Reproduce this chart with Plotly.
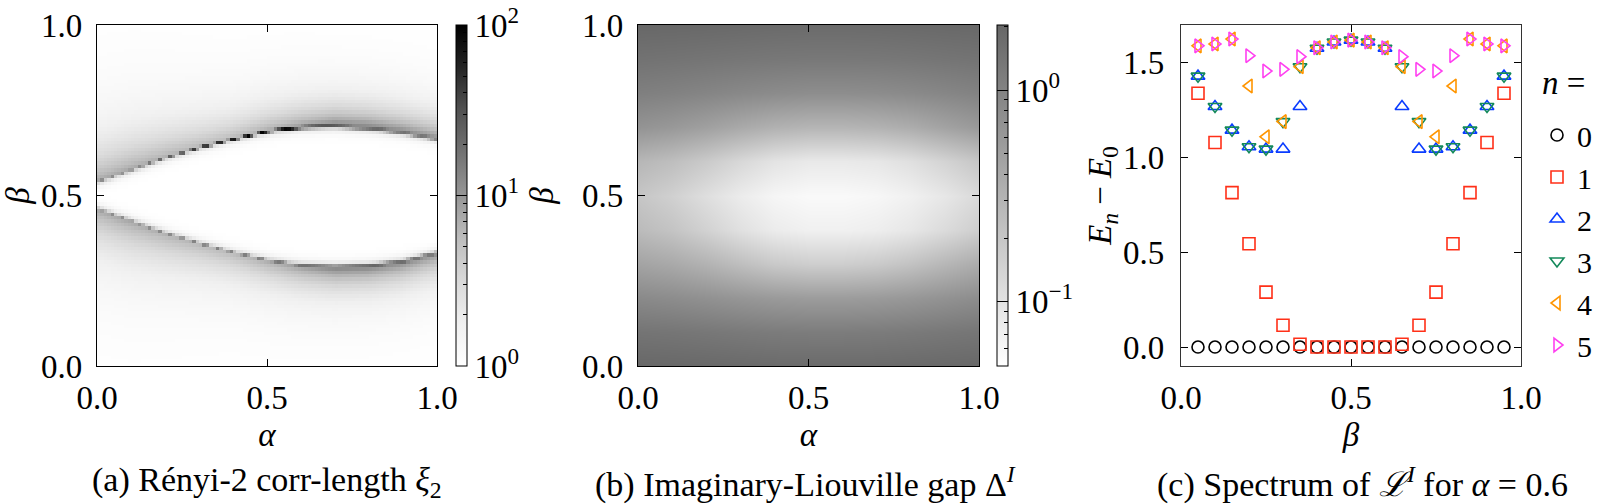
import numpy as np
import plotly.graph_objects as go

FONT = "Liberation Serif, Times New Roman, Times, serif"
FS = 33

# ---------------- Panel (a): Renyi-2 correlation length (log10 xi_2) ----------------
alpha_nodes = [0.0, 0.1, 0.2, 0.3, 0.4, 0.5, 0.6, 0.7, 0.8, 0.9, 1.0]
upper_line_beta = [0.540, 0.575, 0.610, 0.640, 0.665, 0.688, 0.700, 0.704, 0.698, 0.686, 0.667]
lower_line_beta = [0.462, 0.425, 0.390, 0.360, 0.333, 0.310, 0.295, 0.290, 0.293, 0.305, 0.330]
upper_line_peak = [1.05, 1.15, 1.35, 1.70, 1.95, 2.00, 1.95, 1.45, 1.35, 1.25, 1.20]
lower_line_peak = [1.05, 1.10, 1.10, 1.15, 1.15, 1.20, 1.25, 1.35, 1.35, 1.30, 1.20]
line_width = [0.004, 0.004, 0.004, 0.0045, 0.0045, 0.005, 0.006, 0.008, 0.009, 0.009, 0.009]
halo_peak = [0.90, 0.90, 0.85, 0.80, 0.80, 0.88, 1.00, 1.15, 1.15, 1.10, 1.05]
halo_width = [0.12, 0.115, 0.105, 0.095, 0.085, 0.080, 0.075, 0.070, 0.070, 0.070, 0.070]
xi_ticks_major = [1, 10, 100]
xi_ticks_minor = [2, 3, 4, 5, 6, 7, 8, 9, 20, 30, 40, 50, 60, 70, 80, 90]

cells_a = (np.arange(100) + 0.5) / 100.0
AA, BB = np.meshgrid(cells_a, cells_a)


def band(d, peak, w, hp, hw):
    core = peak * np.exp(-(d / w) ** 2)
    halo = np.where(d > 0, hp * np.exp(-np.clip(d, 0, None) / hw),
                    hp * np.exp(np.clip(d, None, 0) / 0.010))
    return np.maximum(core, halo)


bu = np.interp(AA, alpha_nodes, upper_line_beta)
bl = np.interp(AA, alpha_nodes, lower_line_beta)
pu = np.interp(AA, alpha_nodes, upper_line_peak)
pl = np.interp(AA, alpha_nodes, lower_line_peak)
lw = np.interp(AA, alpha_nodes, line_width)
hp = np.interp(AA, alpha_nodes, halo_peak)
hw = np.interp(AA, alpha_nodes, halo_width)
z_a = np.maximum(band(BB - bu, pu, lw, hp, hw), band(bl - BB, pl, lw, hp, hw))
z_a = np.clip(z_a, 0, 2)

# ---------------- Panel (b): Imaginary-Liouville gap ----------------
gap_alpha = [0.0, 0.1, 0.2, 0.3, 0.4, 0.5, 0.6, 0.7, 0.8, 0.9, 1.0]
gap_beta = [0.0, 0.1, 0.2, 0.3, 0.4, 0.5, 0.6, 0.7, 0.8, 0.9, 1.0]
gap_values = [
    [1.95, 1.93, 1.90, 1.86, 1.82, 1.80, 1.80, 1.82, 1.86, 1.90, 1.93],
    [1.44, 1.40, 1.34, 1.27, 1.21, 1.19, 1.19, 1.21, 1.26, 1.33, 1.40],
    [0.86, 0.80, 0.72, 0.64, 0.58, 0.55, 0.55, 0.57, 0.62, 0.70, 0.80],
    [0.46, 0.40, 0.32, 0.24, 0.185, 0.165, 0.165, 0.18, 0.22, 0.29, 0.38],
    [0.26, 0.21, 0.15, 0.105, 0.080, 0.071, 0.071, 0.076, 0.090, 0.12, 0.165],
    [0.20, 0.155, 0.11, 0.080, 0.063, 0.057, 0.057, 0.061, 0.071, 0.090, 0.125],
    [0.29, 0.24, 0.18, 0.13, 0.098, 0.085, 0.085, 0.090, 0.108, 0.145, 0.20],
    [0.68, 0.60, 0.50, 0.40, 0.33, 0.30, 0.30, 0.32, 0.37, 0.47, 0.59],
    [1.10, 1.04, 0.96, 0.88, 0.82, 0.78, 0.78, 0.80, 0.85, 0.93, 1.03],
    [1.51, 1.47, 1.42, 1.37, 1.33, 1.31, 1.31, 1.32, 1.36, 1.42, 1.48],
    [1.95, 1.93, 1.90, 1.86, 1.82, 1.80, 1.80, 1.82, 1.86, 1.90, 1.93],
]
gap_range = [0.0497, 2.03]
gap_ticks_major = [0.1, 1]
gap_ticks_minor = [0.06, 0.07, 0.08, 0.09, 0.2, 0.3, 0.4, 0.5, 0.6, 0.7, 0.8, 0.9, 2]

# ---------------- Panel (c): spectrum for alpha = 0.6 ----------------
beta_c = [0.05, 0.10, 0.15, 0.20, 0.25, 0.30, 0.35, 0.40, 0.45, 0.50,
          0.55, 0.60, 0.65, 0.70, 0.75, 0.80, 0.85, 0.90, 0.95]
E0 = [0, 0, 0, 0, 0, 0, 0, 0, 0, 0, 0, 0, 0, 0, 0, 0, 0, 0, 0]
E1 = [1.34, 1.08, 0.815, 0.545, 0.29, 0.115, 0.015, 0.0, 0.0, 0.0,
      0.0, 0.0, 0.015, 0.115, 0.29, 0.545, 0.815, 1.08, 1.34]
E2 = [1.43, 1.27, 1.145, 1.057, 1.045, 1.045, 1.27, 1.577, 1.61, 1.62,
      1.61, 1.577, 1.27, 1.045, 1.045, 1.057, 1.145, 1.27, 1.43]
E3 = [1.43, 1.27, 1.145, 1.057, 1.045, 1.19, 1.48, 1.577, 1.61, 1.62,
      1.61, 1.577, 1.48, 1.19, 1.045, 1.057, 1.145, 1.27, 1.43]
E4 = [1.59, 1.60, 1.626, 1.378, 1.11, 1.19, 1.48, 1.58, 1.61, 1.62,
      1.61, 1.58, 1.48, 1.19, 1.11, 1.378, 1.626, 1.60, 1.59]
E5 = [1.59, 1.60, 1.626, 1.538, 1.457, 1.466, 1.533, 1.58, 1.61, 1.62,
      1.61, 1.58, 1.533, 1.466, 1.457, 1.538, 1.626, 1.60, 1.59]
levels = [("0", E0, "circle-open", "#000000"),
          ("1", E1, "square-open", "#ff3018"),
          ("2", E2, "triangle-up-open", "#0a3cff"),
          ("3", E3, "triangle-down-open", "#13895a"),
          ("4", E4, "triangle-left-open", "#ff9500"),
          ("5", E5, "triangle-right-open", "#ff40f0")]

# ---------------- figure ----------------
W, H = 1600, 504
def px_x(a, b):
    return [a / W, b / W]
def px_y(top, bottom):
    return [(H - bottom) / H, (H - top) / H]

dom_y = px_y(25, 366)
dom_a = px_x(97, 437)
dom_b = px_x(638, 979)
dom_c = px_x(1181, 1521)
cb_len = 341
cb_y = (H - (25 + 366) / 2) / H

greys = [[0.0, "#ffffff"], [0.125, "#f0f0f0"], [0.25, "#d9d9d9"], [0.375, "#bdbdbd"],
         [0.5, "#969696"], [0.625, "#737373"], [0.75, "#525252"], [0.875, "#252525"],
         [1.0, "#000000"]]
clear = [[0, "rgba(0,0,0,0)"], [1, "rgba(0,0,0,0)"]]
tfont = dict(family=FONT, size=FS, color="black")
cfont = dict(family=FONT, size=34, color="black")
lfont = dict(family=FONT, size=30, color="black")


def sup_label(v):
    e = int(round(np.log10(v)))
    return "10<sup>%s</sup>" % (str(e).replace("-", "−"))


def cbar_major(xpx, vals):
    return dict(x=xpx / W, xanchor="left", xpad=0, ypad=0, y=cb_y, yanchor="middle",
                len=cb_len, lenmode="pixels", thickness=11, outlinecolor="black",
                outlinewidth=1, tickmode="array", tickvals=list(np.log10(vals)),
                ticktext=[sup_label(v) for v in vals], ticks="inside", ticklen=11,
                tickwidth=1, tickcolor="black", tickfont=tfont)


def cbar_minor(xpx, vals):
    return dict(x=xpx / W, xanchor="left", xpad=0, ypad=0, y=cb_y, yanchor="middle",
                len=cb_len, lenmode="pixels", thickness=11, outlinewidth=0,
                tickmode="array", tickvals=list(np.log10(vals)), ticks="inside",
                ticklen=4, tickwidth=1, tickcolor="black", showticklabels=False)


fig = go.Figure()

# (a)
fig.add_trace(go.Heatmap(x=cells_a, y=cells_a, z=z_a, zmin=0, zmax=2, colorscale=greys,
                         xaxis="x", yaxis="y", hoverinfo="skip",
                         colorbar=cbar_major(456, xi_ticks_major)))
fig.add_trace(go.Heatmap(x=cells_a, y=cells_a, z=z_a, zmin=0, zmax=2, colorscale=clear,
                         xaxis="x", yaxis="y", hoverinfo="skip",
                         colorbar=cbar_minor(456, xi_ticks_minor)))
# (b)
z_b = np.log10(np.array(gap_values))
gmin, gmax = np.log10(gap_range[0]), np.log10(gap_range[1])
fig.add_trace(go.Heatmap(x=gap_alpha, y=gap_beta, z=z_b, zmin=gmin, zmax=gmax,
                         colorscale=[[0, "#ffffff"], [1, "#666666"]], zsmooth="best",
                         xaxis="x2", yaxis="y2", hoverinfo="skip",
                         colorbar=cbar_major(997, gap_ticks_major)))
fig.add_trace(go.Heatmap(x=gap_alpha, y=gap_beta, z=z_b, zmin=gmin, zmax=gmax,
                         colorscale=clear, zsmooth="best",
                         xaxis="x2", yaxis="y2", hoverinfo="skip",
                         colorbar=cbar_minor(997, gap_ticks_minor)))
# (c)
for name, vals, sym, col in levels:
    fig.add_trace(go.Scatter(x=beta_c, y=vals, mode="markers", name=name,
                             xaxis="x3", yaxis="y3", hoverinfo="skip",
                             marker=dict(symbol=sym, size=12, color=col,
                                         line=dict(width=1.6, color=col))))

common = dict(showgrid=False, zeroline=False, showline=True, linecolor="black",
              linewidth=1.3, mirror="ticks", ticks="inside", ticklen=7, tickwidth=1.3,
              tickcolor="black", tickfont=tfont)
unit_ticks = dict(tickmode="array", tickvals=[0, 0.5, 1.0], ticktext=["0.0", "0.5", "1.0"],
                  range=[0, 1])

fig.update_layout(
    width=W, height=H, margin=dict(l=0, r=0, t=0, b=0, autoexpand=False),
    paper_bgcolor="white", plot_bgcolor="white",
    font=dict(family=FONT, size=FS, color="black"),
    showlegend=True,
    xaxis=dict(domain=dom_a, anchor="y", title=dict(text="<i>α</i>", standoff=8,
               font=tfont), ticklabelstandoff=2, **common, **unit_ticks),
    yaxis=dict(domain=dom_y, anchor="x", title=dict(text="<i>β</i>", standoff=18,
               font=tfont), ticklabelstandoff=7, **common, **unit_ticks),
    xaxis2=dict(domain=dom_b, anchor="y2", title=dict(text="<i>α</i>", standoff=8,
                font=tfont), ticklabelstandoff=2, **common, **unit_ticks),
    yaxis2=dict(domain=dom_y, anchor="x2", title=dict(text="<i>β</i>", standoff=18,
                font=tfont), ticklabelstandoff=7, **common, **unit_ticks),
    xaxis3=dict(domain=dom_c, anchor="y3", title=dict(text="<i>β</i>", standoff=8,
                font=tfont), ticklabelstandoff=2, **common, **unit_ticks),
    yaxis3=dict(domain=dom_y, anchor="x3", range=[-0.1, 1.7], tickmode="array",
                tickvals=[0, 0.5, 1.0, 1.5], ticktext=["0.0", "0.5", "1.0", "1.5"],
                title=dict(text="<i>E</i><sub><i>n</i></sub> − <i>E</i><sub>0</sub>",
                           standoff=0, font=tfont), ticklabelstandoff=9, **common),
    legend=dict(x=1537 / W, xanchor="left", y=(H - 109) / H, yanchor="top",
                font=lfont, bgcolor="rgba(0,0,0,0)", borderwidth=0,
                tracegroupgap=0),
)
fig.update_layout(yaxis3_linecolor="#333333", xaxis3_linecolor="#333333")

fig.add_annotation(x=1540 / W, y=(H - 83) / H, xref="paper", yref="paper",
                   xanchor="left", yanchor="middle", text="<i>n</i> =",
                   showarrow=False, font=tfont)

captions = [(267, "(a) Rényi-2 corr-length <i>ξ</i><sub>2</sub>"),
            (805, "(b) Imaginary-Liouville gap Δ<sup><i>I</i></sup>"),
            (1362, "(c) Spectrum of <i>ℒ</i><sup><i>I</i></sup> for <i>α</i> = 0.6")]
for xc, txt in captions:
    fig.add_annotation(x=xc / W, y=(H - 482) / H, xref="paper", yref="paper",
                       xanchor="center", yanchor="middle", text=txt, showarrow=False,
                       font=cfont)

fig.write_html("out.html", config={"displayModeBar": False},
               post_script="document.body.style.margin='0';"
                           "document.body.style.overflow='hidden';")
